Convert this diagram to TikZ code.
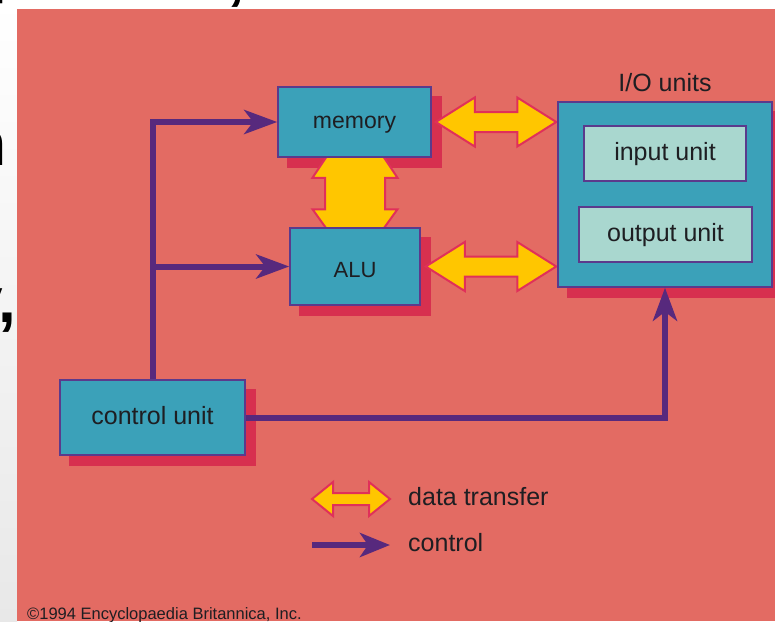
\documentclass[tikz,border=0pt]{standalone}
\usepackage{fontspec}
\setmainfont{Liberation Sans}
\usetikzlibrary{arrows.meta,calc}
\definecolor{salmon}{HTML}{E36B63}
\definecolor{boxblue}{HTML}{3BA1B9}
\definecolor{boxlight}{HTML}{A9D7CF}
\definecolor{shadowred}{HTML}{D7304F}
\definecolor{edgepurple}{HTML}{5B3A8C}
\definecolor{ctlpurple}{HTML}{57297D}
\definecolor{dataylw}{HTML}{FFC600}
\definecolor{dataedge}{HTML}{E0305A}
\definecolor{inkdark}{HTML}{1E1E22}
\pgfdeclarelayer{bg}\pgfdeclarelayer{mid}\pgfsetlayers{bg,mid,main}
\newcommand\lblfont{\fontsize{25}{25}\selectfont}
\newcommand\fragfont{\fontsize{64}{64}\selectfont\bfseries}
% horizontal double data arrow: left tip, right tip, head length, head half width, shaft half width
\newcommand\dataH[5]{%
  \path let \p1=(#1), \p2=(#2) in [datastyle]
    (\x1,\y1) -- (\x1+#3pt,\y1+#4pt) -- (\x1+#3pt,\y1+#5pt) -- (\x2-#3pt,\y2+#5pt)
    -- (\x2-#3pt,\y2+#4pt) -- (\x2,\y2) -- (\x2-#3pt,\y2-#4pt) -- (\x2-#3pt,\y2-#5pt)
    -- (\x1+#3pt,\y1-#5pt) -- (\x1+#3pt,\y1-#4pt) -- cycle;}
\tikzset{
  unitbox/.style={draw=edgepurple, line width=1.5pt, fill=boxblue, inner sep=0pt,
    text=inkdark, font=\lblfont, text height=13pt, text depth=0pt},
  subbox/.style={unitbox, fill=boxlight},
  boxshadow/.style={fill=shadowred},
  ctl/.style={draw=ctlpurple, line width=6pt, -{Stealth[length=33pt,width=24pt,inset=9pt]}},
  datastyle/.style={fill=dataylw, draw=dataedge, line width=2pt, line join=miter},
  legendtext/.style={font=\lblfont, text=inkdark, anchor=base west, inner sep=0pt},
  fragment/.style={font=\fragfont, text=black, anchor=base west, inner sep=0pt},
}
\begin{document}
\begin{tikzpicture}[x=1pt,y=-1pt]
\useasboundingbox (0,0) rectangle (775,621);

% boxes
\node[unitbox, minimum width=153pt, minimum height=70pt] (memory) at (354.5,122) {\fontsize{23}{23}\selectfont memory};
\node[unitbox, minimum width=130pt, minimum height=77pt, text height=21pt] (alu) at (355,266.5) {\fontsize{22}{22}\selectfont ALU};
\node[unitbox, minimum width=214pt, minimum height=185pt] (io) at (665,194.5) {};
\node[legendtext, anchor=base] (iolabel) at (665,91) {I/O units};
\node[subbox, minimum width=162pt, minimum height=55pt] (inp) at (665,153.5) {input unit};
\node[subbox, minimum width=173pt, minimum height=55pt] (outp) at (665.5,234.5) {output unit};
\node[unitbox, minimum width=185pt, minimum height=75pt] (cu) at (152.5,417.5) {control unit};

% background, slide fragments, shadows
\begin{pgfonlayer}{bg}
  \shade[top color=white, bottom color=black!9] (0,0) rectangle (17,621);
  \fill[white] (17,0) rectangle (775,9);
  \node[fragment] (fragn) at (-32.5,165) {n};
  \node[fragment] (fragy) at (-33,322) {y};
  \node[fragment] (fragc) at (-1.5,322) {,};
  \node[fragment] (fragp) at (-11,-9.5) {p};
  \node[fragment] (fragt) at (227,-2) {,};
  \fill[salmon] (17,9) rectangle (775,621);
  \foreach \n in {memory,alu,io,cu}
    \fill[boxshadow] ([shift={(10,10)}]\n.north west) rectangle ([shift={(10,10)}]\n.south east);
\end{pgfonlayer}

% data transfer arrows
\begin{pgfonlayer}{mid}
  \dataH{$(memory.east)+(4,0)$}{$(io.west |- memory.east)+(-1,0)$}{39}{24.5}{10}
  \dataH{$(alu.east)+(5,0)$}{$(io.west |- alu.east)+(-1,0)$}{39}{24.5}{10}
  \path let \p1=(memory.south), \p2=(alu.north) in [datastyle]
    (\x2-24.5pt,\y1+7pt) -- (\x2-42.5pt,\y1-20pt) -- (\x2-30pt,\y1-20pt)
    -- (\x2-30pt,\y2+18pt) -- (\x2-42.5pt,\y2+18pt) -- (\x2-24.5pt,\y2-7pt)
    -- (\x2+24.5pt,\y2-7pt) -- (\x2+42.5pt,\y2+18pt) -- (\x2+30pt,\y2+18pt)
    -- (\x2+30pt,\y1-20pt) -- (\x2+42.5pt,\y1-20pt) -- (\x2+24.5pt,\y1+7pt) -- cycle;
\end{pgfonlayer}

% control connectors
\draw[ctl] (cu.north) |- (memory.west);
\draw[ctl] (cu.north |- alu.west) -- (alu.west);
\draw[ctl] (cu.east) -| (io.south);

% legend
\coordinate (ld1) at (312,499);
\coordinate (ld2) at (390,499);
\begin{pgfonlayer}{mid}
  \dataH{ld1}{ld2}{21}{17}{6}
\end{pgfonlayer}
\node[legendtext] (ldt) at (408,505) {data transfer};
\coordinate (lc1) at (312,545);
\coordinate (lc2) at (390,545);
\draw[ctl, -{Stealth[length=30pt,width=24pt,inset=8pt]}] (lc1) -- (lc2);
\node[legendtext] (lct) at (408,551) {control};

% copyright
\node[anchor=base west, inner sep=0pt, font=\fontsize{16.5}{16.5}\selectfont, text=inkdark] (copy) at (27,619) {©1994 Encyclopaedia Britannica, Inc.};
\end{tikzpicture}
\end{document}
